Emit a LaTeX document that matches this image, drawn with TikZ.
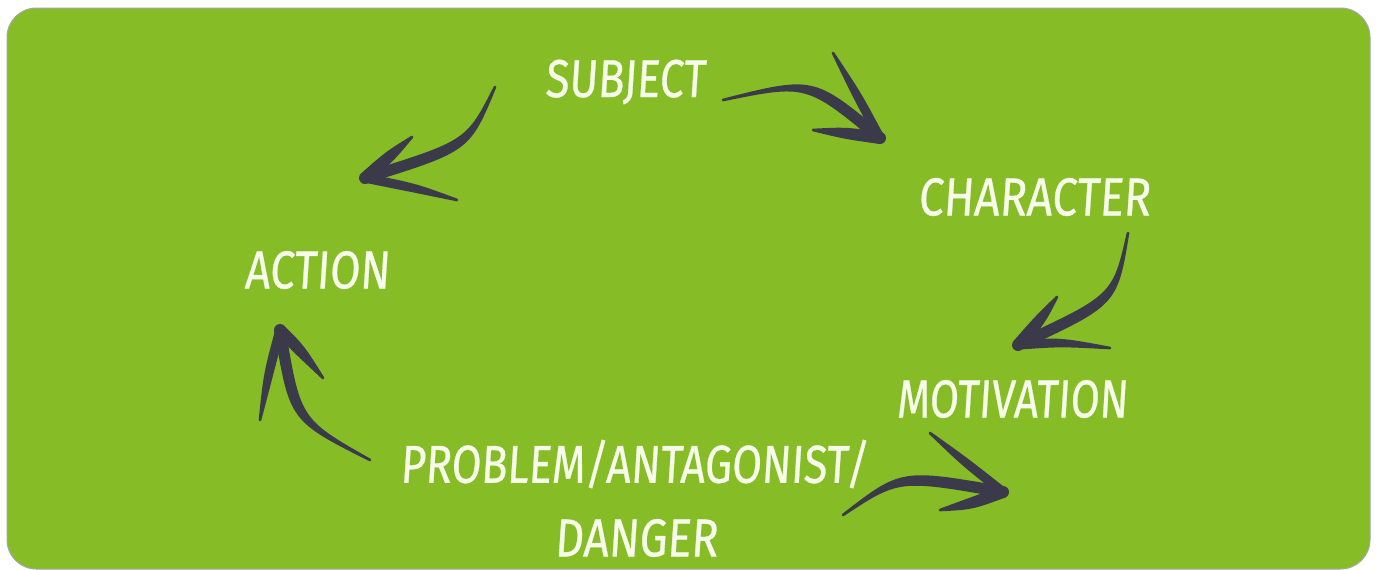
\documentclass[tikz,border=0pt]{standalone}
\usepackage{fontspec}
\setmainfont{Fira Sans}
\usetikzlibrary{calc}
\definecolor{bggreen}{HTML}{86BC25}
\definecolor{ink}{HTML}{3B3A4A}
\definecolor{chalk}{HTML}{F7FBEA}
\newcommand\fitw[2]{\resizebox{#1}{\height}{#2}}
% tapered brush stroke: thin end, control, thick end, half width
\newcommand\brush[4]{%
  \fill[ink] ($#1!1pt!90:#2$) .. controls ($#2!#4!90:#3$) .. ($#3!#4!-90:#2$)
     -- ($#3!#4!90:#2$) .. controls ($#2!#4!-90:#3$) .. ($#1!1pt!-90:#2$) -- cycle;
  \fill[ink] #3 circle (#4);
  \fill[ink] #1 circle (1pt);}
\begin{document}
\begin{tikzpicture}[x=0.75pt,y=-0.75pt,
  lab/.style={text=chalk,font=\fontsize{40}{44}\selectfont\addfontfeature{FakeSlant=0.08,FakeBold=0.6},inner sep=0pt}]
\useasboundingbox (0,0) rectangle (1377,569);
\fill[white] (0,0) rectangle (1377,569);
\draw[gray!70,line width=0.75pt,fill=bggreen,rounded corners=22pt] (7,8) rectangle (1370,569);

\node[lab] (subject)   at (625,82)  {\fitw{120pt}{SUBJECT}};
\node[lab] (character) at (1034,197) {\fitw{174pt}{CHARACTER}};
\node[lab] (action)    at (317,270) {\fitw{108.75pt}{ACTION}};
\node[lab] (motivation) at (1012,399) {\fitw{173.25pt}{MOTIVATION}};
\node[lab] (problem)   at (634,464) {\fitw{351pt}{PROBLEM/ANTAGONIST/}};
\node[lab] (danger)    at (636,538) {\fitw{122.25pt}{DANGER}};

% arrow 1: subject -> action
\coordinate (a1t) at (495,87);  \coordinate (a1c) at (468,146); \coordinate (a1h) at (365,178);
\coordinate (a1u) at (412,137); \coordinate (a1uc) at (390,156);
\coordinate (a1l) at (457,200); \coordinate (a1lc) at (415,188);
\brush{(a1t)}{(a1c)}{(a1h)}{4.2pt}
\brush{(a1u)}{(a1uc)}{(a1h)}{4.5pt}
\brush{(a1l)}{(a1lc)}{(a1h)}{3.5pt}

% arrow 2: subject -> character
\coordinate (a2t) at (723,100); \coordinate (a2c) at (810,80); \coordinate (a2h) at (880,138);
\coordinate (a2u) at (833,53);  \coordinate (a2uc) at (857,95);
\coordinate (a2l) at (813,130); \coordinate (a2lc) at (845,133);
\brush{(a2t)}{(a2c)}{(a2h)}{4.2pt}
\brush{(a2u)}{(a2uc)}{(a2h)}{3.5pt}
\brush{(a2l)}{(a2lc)}{(a2h)}{4.5pt}

% arrow 3: character -> motivation
\coordinate (a3t) at (1128,233); \coordinate (a3c) at (1115,300); \coordinate (a3h) at (1018,345);
\coordinate (a3u) at (1057,297); \coordinate (a3uc) at (1040,320);
\coordinate (a3l) at (1110,348); \coordinate (a3lc) at (1060,342);
\brush{(a3t)}{(a3c)}{(a3h)}{4.2pt}
\brush{(a3u)}{(a3uc)}{(a3h)}{4.5pt}
\brush{(a3l)}{(a3lc)}{(a3h)}{3.5pt}

% arrow 4: problem -> motivation side
\coordinate (a4t) at (843,515); \coordinate (a4c) at (900,474); \coordinate (a4h) at (1003,492);
\coordinate (a4u) at (930,433); \coordinate (a4uc) at (965,462);
\coordinate (a4l) at (940,510); \coordinate (a4lc) at (970,504);
\brush{(a4t)}{(a4c)}{(a4h)}{4.2pt}
\brush{(a4u)}{(a4uc)}{(a4h)}{3.5pt}
\brush{(a4l)}{(a4lc)}{(a4h)}{4.5pt}

% arrow 5: problem -> action
\coordinate (a5t) at (370,460); \coordinate (a5c) at (295,420); \coordinate (a5h) at (280,330);
\coordinate (a5u) at (260,420); \coordinate (a5uc) at (268,375);
\coordinate (a5l) at (323,378); \coordinate (a5lc) at (300,350);
\brush{(a5t)}{(a5c)}{(a5h)}{4.2pt}
\brush{(a5u)}{(a5uc)}{(a5h)}{3.5pt}
\brush{(a5l)}{(a5lc)}{(a5h)}{4.5pt}
\end{tikzpicture}
\end{document}
